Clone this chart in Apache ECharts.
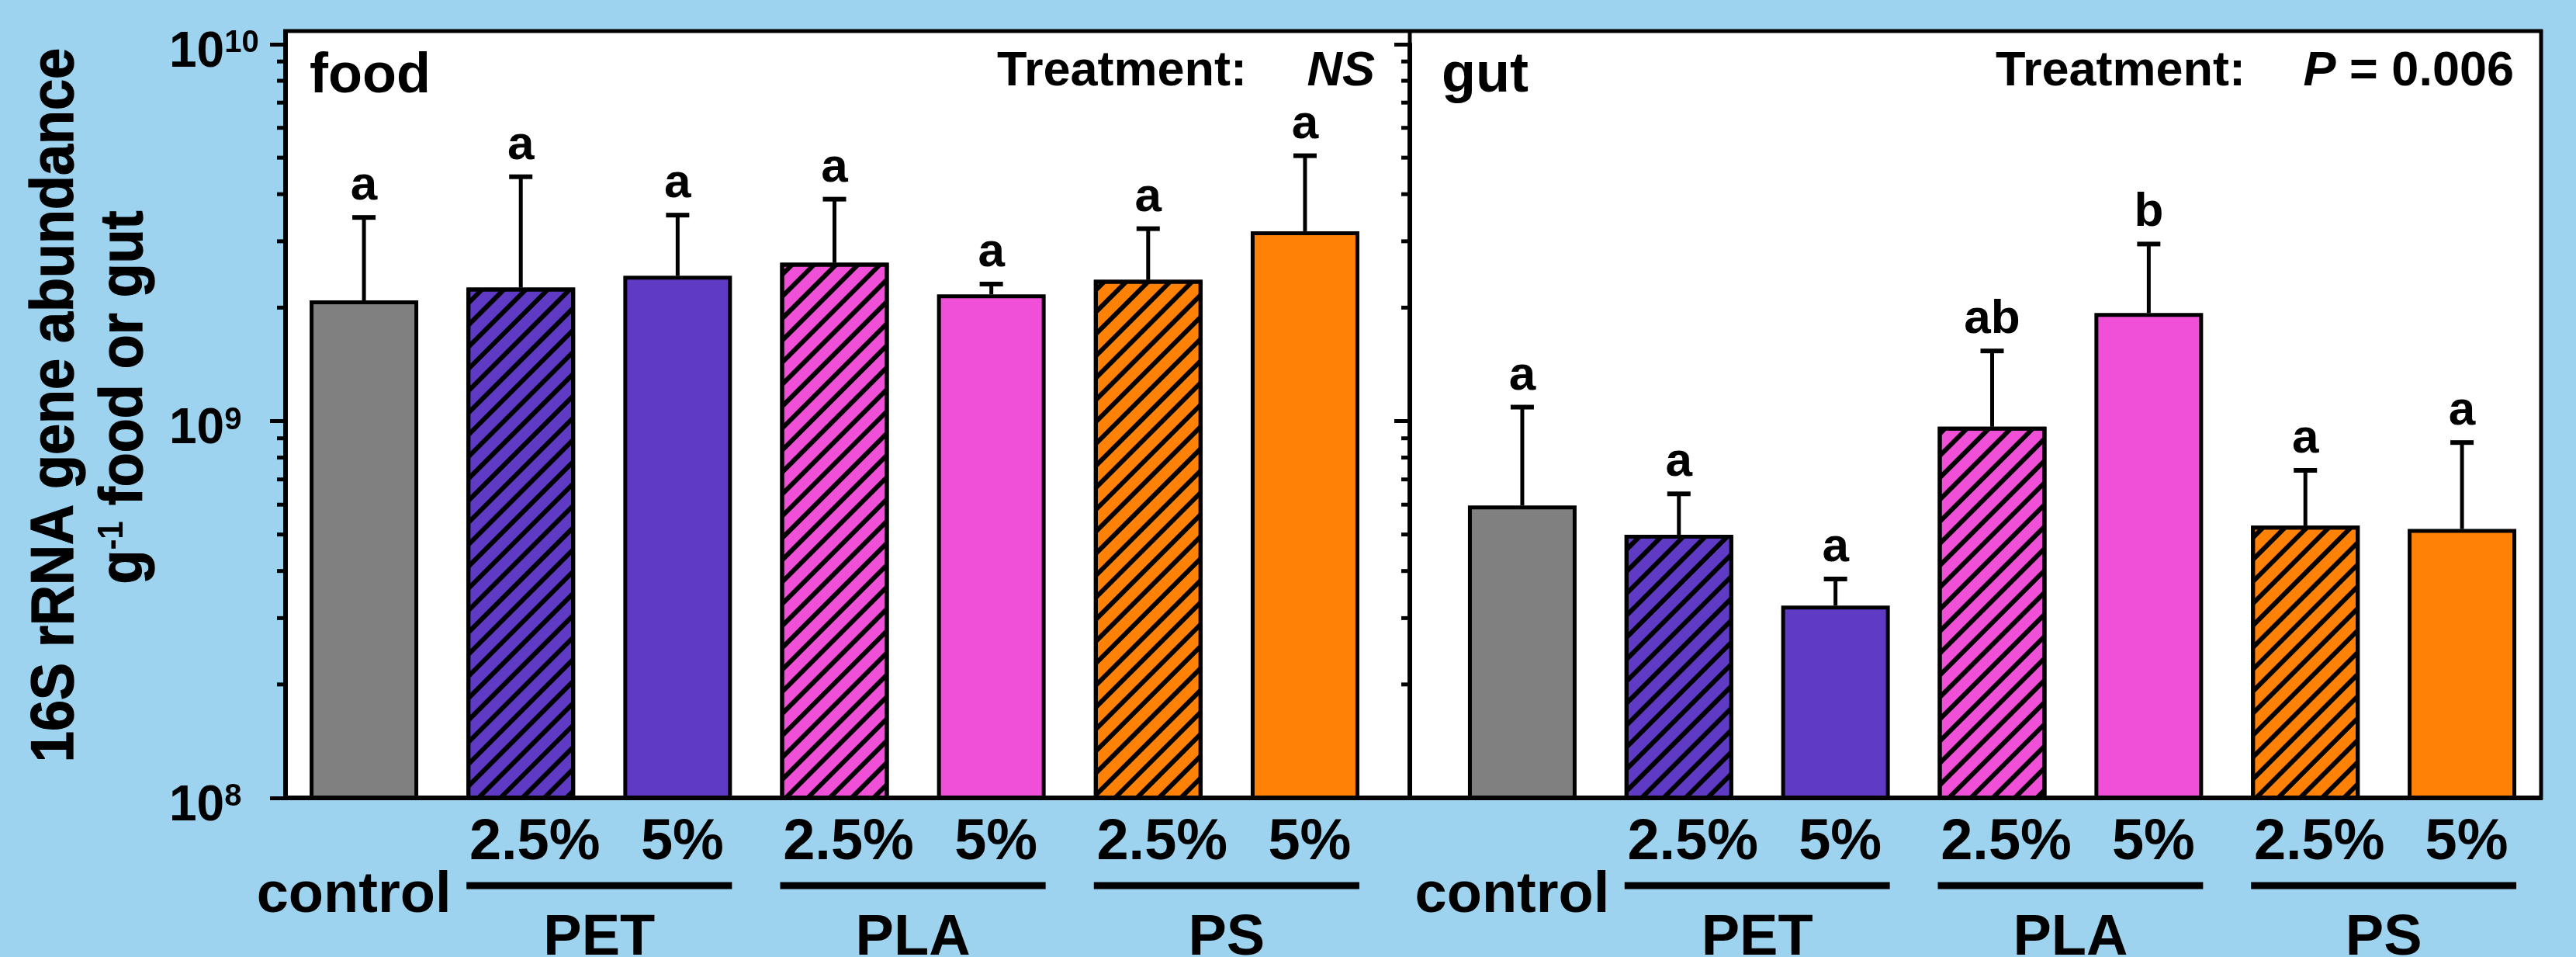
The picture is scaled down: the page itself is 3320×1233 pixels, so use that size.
<!DOCTYPE html>
<html><head><meta charset="utf-8">
<script src="https://cdn.jsdelivr.net/npm/echarts@6/dist/echarts.min.js"></script>
<style>html,body{margin:0;padding:0;background:#9DD3EE;} #c{width:3320px;height:1233px;}</style>
</head><body><div id="c"></div>
<script>
// ---- data ----
const categories = ['control', '2.5%', '5%', '2.5%', '5%', '2.5%', '5%'];
const groupNames = ['PET', 'PLA', 'PS'];
const groupMembers = [[1, 2], [3, 4], [5, 6]];
const foodMean = [2.09e9, 2.26e9, 2.43e9, 2.63e9, 2.17e9, 2.37e9, 3.19e9];
const foodErr = [1.38e9, 2.19e9, 1.09e9, 1.25e9, 0.14e9, 0.87e9, 1.87e9];
const foodLetters = ['a', 'a', 'a', 'a', 'a', 'a', 'a'];
const gutMean = [5.97e8, 4.99e8, 3.24e8, 9.66e8, 1.936e9, 5.28e8, 5.17e8];
const gutErr = [4.92e8, 1.42e8, 0.57e8, 5.69e8, 1.014e9, 2.12e8, 3.60e8];
const gutLetters = ['a', 'a', 'a', 'ab', 'b', 'a', 'a'];
const yMin = 1e8, yMax = 1e10;
const minorTickValues = [2e8, 3e8, 4e8, 5e8, 6e8, 7e8, 8e8, 9e8, 2e9, 3e9, 4e9, 5e9, 6e9, 7e9, 8e9, 9e9];
const barColors = ['#808080', '#5E3AC5', '#5E3AC5', '#F050D8', '#F050D8', '#FF8206', '#FF8206'];
const hatched = [false, true, false, true, false, true, false];
const foodTest = 'NS';
const gutTest = '0.006';

// ---- styling ----
const F = '"Liberation Sans", Arial, Helvetica, sans-serif';
const hatchDecal = {
  symbol: 'rect', symbolSize: 1, color: '#000', backgroundColor: null,
  dashArrayX: [1, 0], dashArrayY: [6, 14], rotation: -Math.PI / 4
};

function barData(means) {
  return means.map((v, i) => ({
    value: v,
    itemStyle: Object.assign({ color: barColors[i] }, hatched[i] ? { decal: hatchDecal } : {})
  }));
}

function errRenderer(letters) {
  return function (params, api) {
    const i = api.value(0);
    const m = api.value(1);
    const e = api.value(2);
    const top = api.coord([i, m]);
    const up = api.coord([i, m + e]);
    return {
      type: 'group', children: [
        { type: 'line', shape: { x1: top[0], y1: top[1], x2: up[0], y2: up[1] }, style: { stroke: '#000', lineWidth: 5 } },
        { type: 'line', shape: { x1: up[0] - 15, y1: up[1], x2: up[0] + 15, y2: up[1] }, style: { stroke: '#000', lineWidth: 6 } },
        { type: 'text', x: up[0], y: up[1] - 40, style: { text: letters[i], font: 'bold 62px ' + F, fill: '#000', align: 'center', verticalAlign: 'middle' } }
      ]
    };
  };
}

function minorRenderer(offset) {
  return function (params, api) {
    const y = api.coord([0, api.value(1)])[1];
    const x0 = params.coordSys.x - offset;
    return { type: 'line', shape: { x1: x0 - 11, y1: y, x2: x0, y2: y }, style: { stroke: '#000', lineWidth: 5 } };
  };
}

function groupRenderer(params, api) {
  const a = api.coord([api.value(0), yMin]);
  const b = api.coord([api.value(1), yMin]);
  const name = groupNames[api.value(2)];
  return {
    type: 'group', children: [
      { type: 'line', shape: { x1: a[0] - 70, y1: a[1] + 113, x2: b[0] + 70, y2: a[1] + 113 }, style: { stroke: '#000', lineWidth: 9 } },
      { type: 'text', x: (a[0] + b[0]) / 2, y: a[1] + 182, style: { text: name, font: 'bold 74px ' + F, fill: '#000', align: 'center', verticalAlign: 'middle' } }
    ]
  };
}

const labelRich = {
  c: { fontFamily: F, fontWeight: 'bold', fontSize: 74, lineHeight: 74, color: '#000', padding: [136, 26, 0, 0] },
  p: { fontFamily: F, fontWeight: 'bold', fontSize: 74, lineHeight: 74, color: '#000', padding: [0, 0, 0, 36] },
  q: { fontFamily: F, fontWeight: 'bold', fontSize: 74, lineHeight: 74, color: '#000', padding: [0, 0, 0, 12] }
};
function catLabel(v, i) {
  if (i === 0) return '{c|' + v + '}';
  return (v === '2.5%' ? '{p|' : '{q|') + v + '}';
}

function xAxisCfg(gi) {
  return {
    type: 'category', gridIndex: gi, data: categories,
    axisLine: { show: false }, axisTick: { show: false },
    axisLabel: { interval: 0, margin: 22, formatter: catLabel, rich: labelRich }
  };
}
function yAxisCfg(gi, offset, showLabels) {
  return {
    type: 'log', logBase: 10, min: yMin, max: yMax, gridIndex: gi, offset: offset,
    axisLine: { show: true, lineStyle: { color: '#000', width: 6 } },
    axisTick: { show: true, length: 20, inside: false, lineStyle: { color: '#000', width: 5 } },
    splitLine: { show: false }, minorTick: { show: false },
    axisLabel: {
      show: showLabels, align: 'left', margin: 150, padding: [22, 0, 0, 0],
      formatter: v => '{b|10}{s|' + Math.round(Math.log10(v)) + '}',
      rich: {
        b: { fontFamily: F, fontWeight: 'bold', fontSize: 64, lineHeight: 64, color: '#000' },
        s: { fontFamily: F, fontWeight: 'bold', fontSize: 40, lineHeight: 46, verticalAlign: 'top', color: '#000' }
      }
    }
  };
}

const frameLine = (x1, y1, x2, y2, w) => ({ type: 'line', z: 100, shape: { x1, y1, x2, y2 }, style: { stroke: '#000', lineWidth: w } });

const option = {
  backgroundColor: '#9DD3EE',
  animation: false,
  grid: [
    { left: 368, top: 57, width: 1415, height: 971 },
    { left: 1861, top: 57, width: 1413, height: 971 }
  ],
  xAxis: [xAxisCfg(0), xAxisCfg(1)],
  yAxis: [yAxisCfg(0, 0, true), yAxisCfg(1, 44, false)],
  graphic: [
    { type: 'rect', z: -100, shape: { x: 368, y: 40, width: 2907, height: 988 }, style: { fill: '#fff' } },
    frameLine(365, 40, 3277, 40, 5),
    frameLine(3275, 38, 3275, 1030, 5),
    frameLine(365, 1028, 3277, 1028, 6),
    frameLine(368, 38, 368, 1031, 6),
    frameLine(1817, 38, 1817, 1031, 5),
    { type: 'text', z: 100, x: 399, y: 99, style: { text: 'food', font: 'bold 72px ' + F, fill: '#000', align: 'left', verticalAlign: 'middle' } },
    { type: 'text', z: 100, x: 1858, y: 98, style: { text: 'gut', font: 'bold 72px ' + F, fill: '#000', align: 'left', verticalAlign: 'middle' } },
    { type: 'text', z: 100, x: 1607, y: 93, style: { text: 'Treatment:', font: 'bold 63px ' + F, fill: '#000', align: 'right', verticalAlign: 'middle' } },
    { type: 'text', z: 100, x: 1772, y: 93, style: { text: foodTest, font: 'italic bold 63px ' + F, fill: '#000', align: 'right', verticalAlign: 'middle' } },
    { type: 'text', z: 100, x: 2894, y: 93, style: { text: 'Treatment:', font: 'bold 63px ' + F, fill: '#000', align: 'right', verticalAlign: 'middle' } },
    { type: 'text', z: 100, x: 3240, y: 93, style: {
        text: '{i|P}{n| = ' + gutTest + '}', align: 'right', verticalAlign: 'middle',
        rich: { i: { font: 'italic bold 63px ' + F, fill: '#000' }, n: { font: 'bold 63px ' + F, fill: '#000' } } } },
    { type: 'text', z: 100, x: 73, y: 522, rotation: Math.PI / 2, scaleY: 1.08, style: {
        text: '16S rRNA gene abundance', font: 'bold 72px ' + F, fill: '#000', stroke: '#000', lineWidth: 1.2,
        align: 'center', verticalAlign: 'middle' } },
    { type: 'text', z: 100, x: 162, y: 512, rotation: Math.PI / 2, scaleY: 1.08, style: {
        text: '{a|g}{s|-1}{a| food or gut}', align: 'center', verticalAlign: 'middle',
        rich: { a: { font: 'bold 72px ' + F, fill: '#000', stroke: '#000', lineWidth: 1.2, lineHeight: 72 },
                s: { font: 'bold 42px ' + F, fill: '#000', lineHeight: 45, verticalAlign: 'top' } } } }
  ],
  series: [
    { type: 'bar', xAxisIndex: 0, yAxisIndex: 0, barWidth: 140, data: barData(foodMean), itemStyle: { borderColor: '#000', borderWidth: 5 } },
    { type: 'bar', xAxisIndex: 1, yAxisIndex: 1, barWidth: 140, data: barData(gutMean), itemStyle: { borderColor: '#000', borderWidth: 5 } },
    { type: 'custom', xAxisIndex: 0, yAxisIndex: 0, z: 5, clip: false, renderItem: errRenderer(foodLetters),
      encode: { x: 0, y: 1 }, data: foodMean.map((m, i) => [i, m, foodErr[i]]) },
    { type: 'custom', xAxisIndex: 1, yAxisIndex: 1, z: 5, clip: false, renderItem: errRenderer(gutLetters),
      encode: { x: 0, y: 1 }, data: gutMean.map((m, i) => [i, m, gutErr[i]]) },
    { type: 'custom', xAxisIndex: 0, yAxisIndex: 0, clip: false, renderItem: minorRenderer(0),
      encode: { x: 0, y: 1 }, data: minorTickValues.map(v => [0, v]) },
    { type: 'custom', xAxisIndex: 1, yAxisIndex: 1, clip: false, renderItem: minorRenderer(44),
      encode: { x: 0, y: 1 }, data: minorTickValues.map(v => [0, v]) },
    { type: 'custom', xAxisIndex: 0, yAxisIndex: 0, clip: false, renderItem: groupRenderer,
      encode: { x: [0, 1], y: 3 }, data: groupMembers.map((g, k) => [g[0], g[1], k, 1e9]) },
    { type: 'custom', xAxisIndex: 1, yAxisIndex: 1, clip: false, renderItem: groupRenderer,
      encode: { x: [0, 1], y: 3 }, data: groupMembers.map((g, k) => [g[0], g[1], k, 1e9]) }
  ]
};
const chart = echarts.init(document.getElementById('c'), null, { renderer: 'canvas' });
chart.setOption(option);
</script></body></html>
